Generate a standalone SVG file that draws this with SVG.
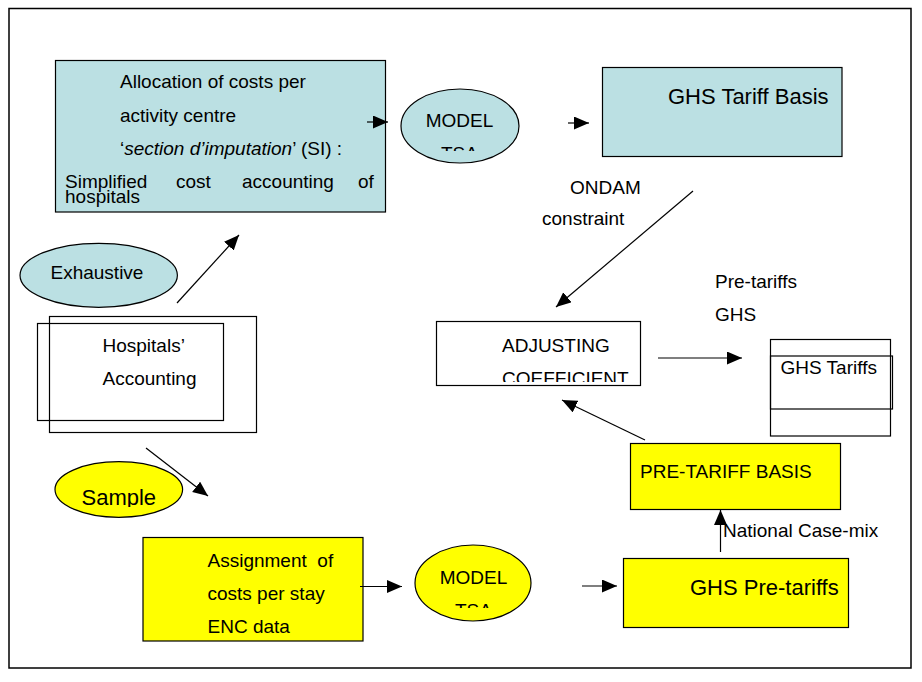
<svg xmlns="http://www.w3.org/2000/svg" width="922" height="682" viewBox="0 0 922 682">
<style>
text{font-family:"Liberation Sans",Arial,sans-serif;font-size:19px;fill:#000}
.big{font-size:22px}
.box{stroke:#000;stroke-width:1.2}
.blue{fill:#BBE0E3}
.yel{fill:#FFFF00}
.wht{fill:#FFF}
.none{fill:none}
.ln{stroke:#000;stroke-width:1.2;fill:none}
</style>
<defs>
<marker id="ah" markerUnits="userSpaceOnUse" markerWidth="16" markerHeight="14" refX="15" refY="6.5" orient="auto">
<path d="M0,0 L15,6.5 L0,13 z" fill="#000"/>
</marker>
<clipPath id="cM1"><rect x="400" y="85" width="120" height="66"/></clipPath>
<clipPath id="cM2"><rect x="414" y="540" width="120" height="68"/></clipPath>
<clipPath id="cAdj"><rect x="436" y="320" width="205" height="62"/></clipPath>
<clipPath id="cSam"><rect x="50" y="455" width="140" height="52"/></clipPath>
</defs>
<rect x="9" y="8.5" width="902" height="659.5" fill="#FFF" stroke="#000" stroke-width="1.5"/>

<g id="allocation">
<rect class="box blue" x="55.5" y="60.5" width="330" height="151.5"/>
<text x="120" y="88">Allocation of costs per</text>
<text x="120" y="121.5">activity centre</text>
<text x="120" y="155">‘<tspan font-style="italic">section d’imputation</tspan>’ (SI) :</text>
<text y="187.5"><tspan x="65">Simplified</tspan><tspan x="176">cost</tspan><tspan x="242">accounting</tspan><tspan x="358">of</tspan></text>
<text x="65" y="202.5">hospitals</text>
</g>

<g id="model-tsa-top">
<ellipse class="box blue" cx="460" cy="126" rx="59" ry="37"/>
<g clip-path="url(#cM1)">
<text x="459.5" y="126.5" text-anchor="middle">MODEL</text>
<text x="459.5" y="159.5" text-anchor="middle">TSA</text>
</g>
</g>

<g id="ghs-tariff-basis">
<rect class="box blue" x="602.5" y="67.5" width="239.5" height="89"/>
<text class="big" x="668" y="104">GHS Tariff Basis</text>
</g>

<g id="ondam-label">
<text x="570" y="194">ONDAM</text>
<text x="542" y="225">constraint</text>
</g>

<g id="pretariffs-label">
<text x="715" y="288">Pre-tariffs</text>
<text x="715" y="321">GHS</text>
</g>

<g id="adjusting">
<rect class="box wht" x="436.5" y="321.5" width="204" height="64"/>
<g clip-path="url(#cAdj)">
<text x="502" y="351.5">ADJUSTING</text>
<text x="502" y="385">COEFFICIENT</text>
</g>
</g>

<g id="ghs-tariffs">
<rect class="box none" x="770.5" y="339.5" width="120" height="96.5"/>
<rect class="box none" x="770.5" y="356" width="122" height="53"/>
<text x="780.5" y="373.5">GHS Tariffs</text>
</g>

<g id="pre-tariff-basis">
<rect class="box yel" x="630.5" y="443.5" width="210" height="66"/>
<text x="640" y="478" font-size="18">PRE-TARIFF BASIS</text>
</g>

<g id="national-casemix-label">
<text x="723" y="536.5">National Case-mix</text>
</g>

<g id="exhaustive">
<ellipse class="box blue" cx="98.7" cy="275.3" rx="78.7" ry="32"/>
<text x="50.5" y="278.5">Exhaustive</text>
</g>

<g id="hospitals-accounting">
<rect class="box none" x="49.5" y="316.5" width="207" height="116"/>
<rect class="box none" x="37.5" y="323.5" width="186" height="97"/>
<text x="102.5" y="351.5">Hospitals’</text>
<text x="102.5" y="385">Accounting</text>
</g>

<g id="sample">
<ellipse class="box yel" cx="118.8" cy="489.5" rx="63.8" ry="27.8"/>
<g clip-path="url(#cSam)">
<text class="big" x="81.5" y="504.5">Sample</text>
</g>
</g>

<g id="assignment">
<rect class="box yel" x="143" y="537.5" width="220" height="103.5"/>
<text x="207.5" y="566.5" xml:space="preserve">Assignment  of</text>
<text x="207.5" y="599.5">costs per stay</text>
<text x="207.5" y="632.5">ENC data</text>
</g>

<g id="model-tsa-bottom">
<ellipse class="box yel" cx="473" cy="583" rx="58" ry="38"/>
<g clip-path="url(#cM2)">
<text x="473.5" y="584" text-anchor="middle">MODEL</text>
<text x="473.5" y="617" text-anchor="middle">TSA</text>
</g>
</g>

<g id="ghs-pre-tariffs">
<rect class="box yel" x="623.5" y="558.5" width="225" height="69"/>
<text class="big" x="690" y="595">GHS Pre-tariffs</text>
</g>

<g id="connectors">
<line class="ln" x1="367" y1="122" x2="388" y2="122" marker-end="url(#ah)"/>
<line class="ln" x1="568" y1="123" x2="589" y2="123" marker-end="url(#ah)"/>
<line class="ln" x1="693" y1="191" x2="556" y2="307" marker-end="url(#ah)"/>
<line class="ln" x1="658" y1="358" x2="742" y2="358" marker-end="url(#ah)"/>
<line class="ln" x1="645" y1="440" x2="562" y2="400" marker-end="url(#ah)"/>
<line class="ln" x1="720.5" y1="552" x2="720.5" y2="510" marker-end="url(#ah)"/>
<line class="ln" x1="177" y1="303" x2="239" y2="235" marker-end="url(#ah)"/>
<line class="ln" x1="146" y1="448" x2="208" y2="496" marker-end="url(#ah)"/>
<line class="ln" x1="360" y1="586.5" x2="402" y2="586.5" marker-end="url(#ah)"/>
<line class="ln" x1="582" y1="586" x2="617" y2="586" marker-end="url(#ah)"/>
</g>
</svg>
